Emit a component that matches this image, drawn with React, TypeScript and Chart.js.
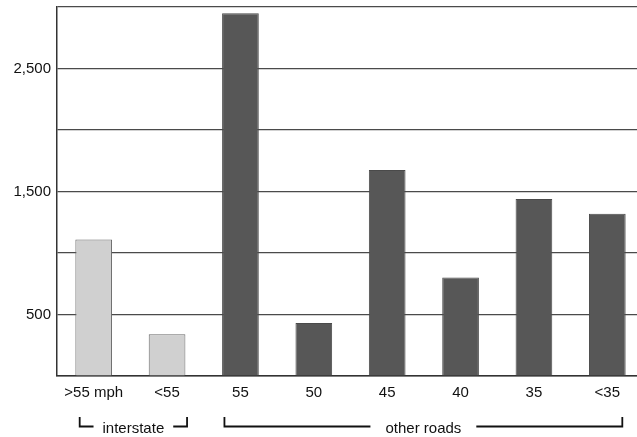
import React, { useEffect, useRef } from "react";
import { Chart, registerables } from "chart.js";

Chart.register(...registerables);

const categories = [">55 mph", "<55", "55", "50", "45", "40", "35", "<35"];
const values = [1110, 340, 2950, 430, 1675, 800, 1440, 1320];
const barColors = ["#d0d0d0", "#d0d0d0", "#575757", "#575757", "#575757", "#575757", "#575757", "#575757"];
const borderColors = ["#6a6a6a", "#6a6a6a", "#4a4a4a", "#4a4a4a", "#4a4a4a", "#4a4a4a", "#4a4a4a", "#4a4a4a"];
const yLabelValues = [500, 1500, 2500];
const groups = [
  { label: "interstate", from: 0, to: 1, leftOff: -14, rightOff: 20, gap: 9 },
  { label: "other roads", from: 2, to: 7, leftOff: -16, rightOff: 15, gap: 15 },
];

const FONT = "'Liberation Sans', Arial, sans-serif";

const bracketPlugin = {
  id: "brackets",
  afterDraw(chart: any) {
    const ctx = chart.ctx;
    const x = chart.scales.x;
    ctx.save();
    ctx.strokeStyle = "#111";
    ctx.fillStyle = "#111";
    ctx.lineWidth = 1.8;
    ctx.font = `15px ${FONT}`;
    ctx.textBaseline = "alphabetic";
    ctx.textAlign = "center";
    const yTop = 417;
    const yLine = 426.5;
    for (const g of groups) {
      const left = x.getPixelForValue(g.from) + g.leftOff;
      const right = x.getPixelForValue(g.to) + g.rightOff;
      const mid = (left + right) / 2;
      const tw = ctx.measureText(g.label).width;
      ctx.beginPath();
      ctx.moveTo(left, yTop);
      ctx.lineTo(left, yLine);
      ctx.lineTo(mid - tw / 2 - g.gap, yLine);
      ctx.moveTo(mid + tw / 2 + g.gap, yLine);
      ctx.lineTo(right, yLine);
      ctx.lineTo(right, yTop);
      ctx.stroke();
      ctx.fillText(g.label, mid, 433);
    }
    ctx.restore();
  },
};

export default function App() {
  const ref = useRef<HTMLCanvasElement | null>(null);
  useEffect(() => {
    if (!ref.current) return;
    const chart = new Chart(ref.current, {
      type: "bar",
      data: {
        labels: categories,
        datasets: [
          {
            data: values,
            backgroundColor: barColors,
            borderColor: borderColors,
            borderWidth: 1,
            categoryPercentage: 1,
            barPercentage: 0.5,
          },
        ],
      },
      options: {
        responsive: false,
        animation: false,
        devicePixelRatio: 1,
        layout: { padding: { left: 0, right: 6, top: 7, bottom: 0 } },
        plugins: { legend: { display: false }, tooltip: { enabled: false } },
        scales: {
          x: {
            grid: { display: false, drawTicks: false },
            border: { display: true, color: "#333", width: 1.5 },
            ticks: {
              color: "#111",
              font: { family: FONT, size: 15 },
              padding: 8,
              maxRotation: 0,
              autoSkip: false,
            },
            afterFit(scale: any) {
              scale.height = 61;
              scale.paddingLeft = 0;
              scale.paddingRight = 0;
            },
          },
          y: {
            min: 0,
            max: 3000,
            grid: { color: "#4a4a4a", lineWidth: 1.2, drawTicks: false },
            border: { display: true, color: "#333", width: 1.5 },
            ticks: {
              stepSize: 500,
              color: "#111",
              font: { family: FONT, size: 15 },
              padding: 6,
              callback: (v: any) =>
                yLabelValues.includes(Number(v)) ? Number(v).toLocaleString("en-US") : "",
            },
            afterFit(scale: any) {
              scale.width = 57;
              scale.paddingTop = 0;
              scale.paddingBottom = 0;
            },
          },
        },
      },
      plugins: [bracketPlugin],
    });
    return () => chart.destroy();
  }, []);
  return (
    <div style={{ position: "fixed", left: 0, top: 0, width: 637, height: 437, overflow: "hidden", background: "#fff" }}>
      <canvas ref={ref} width={650} height={437} style={{ width: 650, height: 437, display: "block" }} />
    </div>
  );
}
